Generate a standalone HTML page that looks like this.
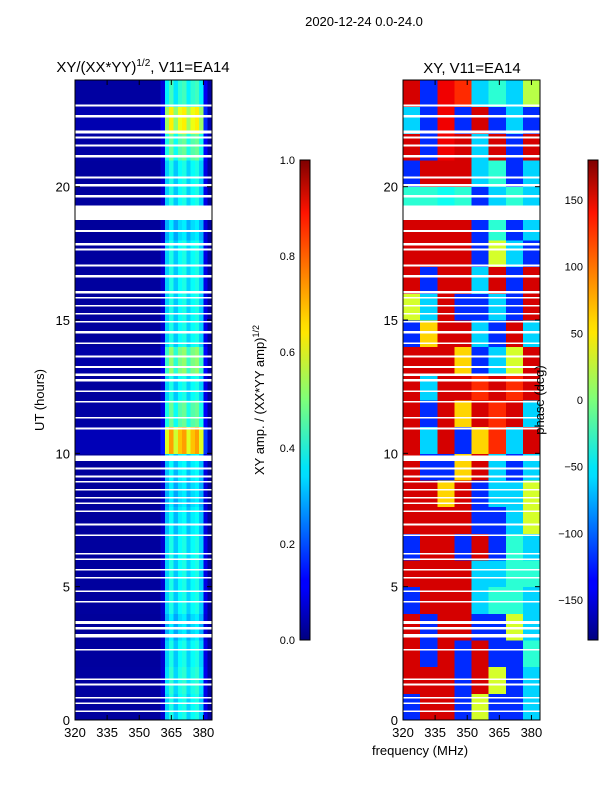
<!DOCTYPE html>
<html><head><meta charset="utf-8"><style>
body{margin:0;background:#fff;width:600px;height:800px;overflow:hidden}
svg{font-family:"Liberation Sans",sans-serif}
</style></head><body>
<svg id="s" width="600" height="800" viewBox="0 0 600 800" xmlns="http://www.w3.org/2000/svg">
<defs>
<linearGradient id="jet" x1="0" y1="1" x2="0" y2="0">
<stop offset="0" stop-color="#00007f"/><stop offset="0.11" stop-color="#0000ff"/><stop offset="0.125" stop-color="#0000ff"/>
<stop offset="0.34" stop-color="#00dcff"/><stop offset="0.36" stop-color="#00e4f8"/><stop offset="0.5" stop-color="#7dff7a"/>
<stop offset="0.64" stop-color="#ffe600"/><stop offset="0.66" stop-color="#ffdb00"/><stop offset="0.89" stop-color="#ff1300"/>
<stop offset="1" stop-color="#7f0000"/></linearGradient>
</defs>
<text x="364" y="26" font-size="13" text-anchor="middle">2020-12-24 0.0-24.0</text>
<text x="143" y="72" font-size="15" text-anchor="middle">XY/(XX*YY)<tspan font-size="10" dy="-6">1/2</tspan><tspan dy="6">, V11=EA14</tspan></text>
<text x="472" y="73" font-size="15" text-anchor="middle">XY, V11=EA14</text>
<g id="left"></g>
<g id="right"></g>
<g id="axes"></g>
<rect x="300" y="160" width="10" height="480" fill="url(#jet)" stroke="#000" stroke-width="1"/>
<rect x="588" y="160" width="10" height="480" fill="url(#jet)" stroke="#000" stroke-width="1"/>
<text transform="translate(44,400) rotate(-90)" font-size="13" text-anchor="middle">UT (hours)</text>
<text transform="translate(264,400) rotate(-90)" font-size="13" text-anchor="middle">XY amp. / (XX*YY amp)<tspan font-size="9" dy="-5">1/2</tspan></text>
<text transform="translate(544,400) rotate(-90)" font-size="13" text-anchor="middle">phase (deg)</text>
<text x="420" y="755" font-size="13" text-anchor="middle">frequency (MHz)</text>
</svg>
<script>
const NS="http://www.w3.org/2000/svg";
const yTicks=[0,5,10,15,20];
const xTicks=[320,335,350,365,380];
const cb1Ticks=[0.0,0.2,0.4,0.6,0.8,1.0];
const cb2Ticks=[-150,-100,-50,0,50,100,150];
const flagStart=[23.0,22.6,22.0,21.8,21.5,21.1,20.3,20.0,19.6,18.75,18.3,17.8,17.6,17.0,16.6,16.0,15.8,15.5,15.2,14.9,14.5,14.1,13.6,13.2,12.9,12.7,12.3,11.9,11.3,10.9,9.72,9.4,9.1,8.9,8.6,8.3,8.1,7.8,7.3,6.9,6.2,6.0,5.6,5.3,4.8,4.4,3.6,3.4,3.1,2.6,1.5,1.3,0.8,0.6,0.3];
const flagLen=[0.08,0.08,0.1,0.08,0.08,0.08,0.08,0.1,0.08,0.55,0.08,0.08,0.08,0.08,0.08,0.08,0.06,0.06,0.06,0.06,0.08,0.06,0.06,0.08,0.1,0.08,0.06,0.06,0.06,0.06,0.2,0.06,0.06,0.06,0.06,0.06,0.06,0.06,0.06,0.06,0.06,0.06,0.06,0.06,0.06,0.06,0.12,0.08,0.12,0.06,0.06,0.06,0.06,0.06,0.06];
const ampChan=[0.03,0.03,0.03,0.03,0.03,0.03,0.03,0.03,0.03,0.03,0.03,0.03,0.03,0.03,0.03,0.03,0.03,0.03,0.03,0.03,0.08,0.33,0.4,0.32,0.38,0.4,0.33,0.38,0.4,0.33,0.1,0.03];
const ampHour=[1.0,1.05,1.0,0.9,1.0,1.0,1.0,0.95,0.9,0.95,1.8,1.2,1.0,1.3,1.0,1.0,1.0,1.0,0.9,1.0,1.0,1.2,1.6,1.1];
const phase=[
[-120,150,150,-120,30,-120,-120,-60],
[150,150,150,-120,150,30,-120,-60],
[150,-120,150,-120,150,-120,-120,-30],
[150,-120,150,150,-120,-120,30,-60],
[-120,150,150,150,-60,-30,-30,-60],
[150,150,150,150,-60,-60,-30,-30],
[-120,150,150,-120,150,-120,-30,-60],
[150,150,150,150,-120,-120,-60,30],
[150,150,60,150,-120,-60,-60,30],
[150,-120,-120,60,150,-60,-120,-60],
[150,-60,150,-120,60,120,-60,150],
[150,-120,150,60,150,120,150,-60],
[150,-60,150,150,120,150,120,150],
[150,150,150,60,-120,-60,30,150],
[-120,60,150,150,-60,-120,150,-60],
[30,-60,150,-120,-120,-60,-120,150],
[150,-120,150,150,-60,150,-120,150],
[150,150,150,150,-120,30,-60,-120],
[150,150,150,150,-120,-30,-120,-60],
[-30,-30,-40,-30,-120,-60,-30,-60],
[-120,150,150,150,-60,-30,-120,-60],
[150,-120,140,150,-60,150,-120,150],
[-60,-120,140,-120,150,-120,-60,-120],
[150,-120,140,120,-60,-30,-60,20]];

function jet(v){v=Math.max(0,Math.min(1,v));
 const r=Math.max(0,Math.min(1,1.5-Math.abs(4*v-3))),g=Math.max(0,Math.min(1,1.5-Math.abs(4*v-2))),b=Math.max(0,Math.min(1,1.5-Math.abs(4*v-1)));
 return `rgb(${Math.round(r*255)},${Math.round(g*255)},${Math.round(b*255)})`;}
const T=80,B=720;
const yS=h=>B-(h/24)*(B-T);
const xL=f=>75+(f-320)*(137/64);
const xR=f=>403+(f-320)*(137/64);
function rect(g,x,y,w,h,fill,name){const r=document.createElementNS(NS,'rect');
 r.setAttribute('x',x);r.setAttribute('y',y);r.setAttribute('width',w);r.setAttribute('height',h);r.setAttribute('fill',fill);r.setAttribute('shape-rendering','crispEdges');
 
 
 g.appendChild(r);return r;}
const L=document.getElementById('left'),R=document.getElementById('right');
for(let h=0;h<24;h++){
 for(let c=0;c<ampChan.length;c++){
  const f0=320+c*2;
  rect(L,xL(f0),yS(h+1),xL(f0+2)-xL(f0)+0.5,yS(h)-yS(h+1)+0.5,jet(ampChan[c]*ampHour[h]),'amp-cell');
 }
 for(let c=0;c<8;c++){
  const f0=320+c*8;
  rect(R,xR(f0),yS(h+1),xR(f0+8)-xR(f0)+0.5,yS(h)-yS(h+1)+0.5,jet((phase[h][c]+180)/360),'phase-cell');
 }
}
for(let i=0;i<flagStart.length;i++){
 const y0=yS(flagStart[i]+flagLen[i]),hh=Math.max(1.5,yS(flagStart[i])-y0);
 rect(L,75,y0,137,hh,'#fff','flag-row');
 rect(R,403,y0,137,hh,'#fff','flag-row');
}
const A=document.getElementById('axes');
function line(x1,y1,x2,y2,name){const l=document.createElementNS(NS,'line');
 l.setAttribute('x1',x1);l.setAttribute('y1',y1);l.setAttribute('x2',x2);l.setAttribute('y2',y2);l.setAttribute('stroke','#000');l.setAttribute('stroke-width','1');
 
 
 A.appendChild(l);}
function text(x,y,s,anchor,size,name){const t=document.createElementNS(NS,'text');
 t.setAttribute('x',x);t.setAttribute('y',y);t.setAttribute('font-size',size);t.setAttribute('text-anchor',anchor);t.textContent=s;
 
 
 A.appendChild(t);}
[[75],[403]].forEach(([x0])=>{
 const fr=document.createElementNS(NS,'rect');
 fr.setAttribute('x',x0);fr.setAttribute('y',T);fr.setAttribute('width',137);fr.setAttribute('height',B-T);fr.setAttribute('fill','none');fr.setAttribute('stroke','#000');
 
 
 A.appendChild(fr);
 const xf=x0===75?xL:xR;
 yTicks.forEach(v=>{const y=yS(v);line(x0,y,x0+5,y,'y-tick');line(x0+137,y,x0+132,y,'y-tick');text(x0-5,y+5,String(v),'end',13,'y-tick-label');});
 xTicks.forEach(v=>{const x=xf(v);line(x,B,x,B-5,'x-tick');line(x,T,x,T+5,'x-tick');text(x,B+17,String(v),'middle',13,'x-tick-label');});
});
cb1Ticks.forEach(v=>{const y=640-v*480;line(300,y,310,y,'cb1-tick');text(295,y+4,v.toFixed(1),'end',11,'cb1-tick-label');});
cb2Ticks.forEach(v=>{const y=640-(v+180)/360*480;line(588,y,598,y,'cb2-tick');text(583,y+4,v<0?'\u2212'+Math.abs(v):String(v),'end',11,'cb2-tick-label');});
</script>
</body></html>
